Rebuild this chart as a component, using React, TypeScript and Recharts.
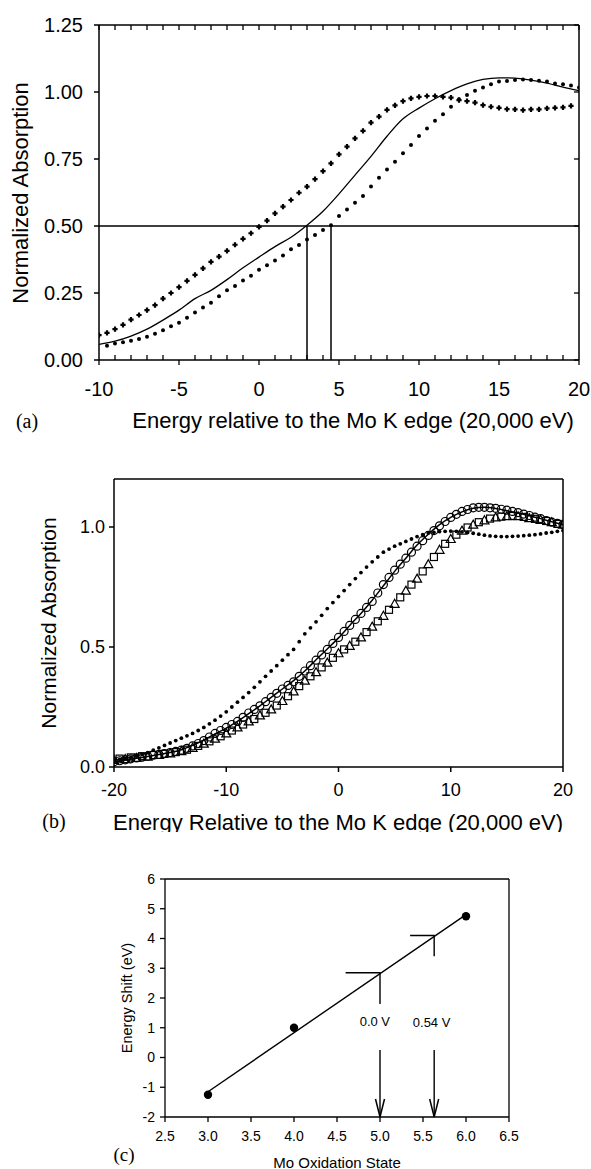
import React from 'react';
import { ComposedChart, Line, Scatter, XAxis, YAxis, ReferenceLine, ReferenceDot } from 'recharts';

const SANS = '"Liberation Sans", Arial, sans-serif';
const SERIF = '"Liberation Serif", "Times New Roman", serif';

const range = (a: number, b: number, s: number) =>
  Array.from({ length: Math.round((b - a) / s) + 1 }, (_, i) => +(a + i * s).toFixed(3));
const zip = (xs: number[], ys: number[]) => xs.map((x, i) => ({ x, y: ys[i] }));

// ---------- Panel (a) ----------
const A_X_TICKS = range(-10, 20, 1);
const A_X_LABELED = [-10, -5, 0, 5, 10, 15, 20];
const A_Y_TICKS = [0, 0.25, 0.5, 0.75, 1.0, 1.25];
const A_PLUS_X = range(-10, 19.5, 0.5);
const A_PLUS_Y = [
  0.093, 0.101, 0.115, 0.131, 0.151, 0.168, 0.186, 0.205, 0.229, 0.25,
  0.272, 0.295, 0.318, 0.342, 0.366, 0.386, 0.407, 0.43, 0.452, 0.473,
  0.497, 0.52, 0.547, 0.572, 0.597, 0.624, 0.647, 0.675, 0.705, 0.734,
  0.767, 0.796, 0.827, 0.855, 0.886, 0.908, 0.933, 0.95, 0.966, 0.976,
  0.982, 0.985, 0.985, 0.982, 0.979, 0.97, 0.966, 0.96, 0.951, 0.945,
  0.941, 0.936, 0.935, 0.932, 0.935, 0.935, 0.939, 0.941, 0.943, 0.948,
];
const A_LINE_X = range(-10, 20, 1);
const A_LINE_Y = [
  0.058, 0.07, 0.089, 0.115, 0.149, 0.186, 0.229, 0.26, 0.3, 0.344, 0.384,
  0.423, 0.458, 0.503, 0.555, 0.62, 0.69, 0.76, 0.835, 0.9, 0.94,
  0.975, 1.005, 1.03, 1.047, 1.053, 1.052, 1.044, 1.033, 1.018, 1.005,
];
const A_DOT_X = range(-9.5, 20, 0.5);
const A_DOT_Y = [
  0.053, 0.062, 0.066, 0.072, 0.078, 0.087, 0.098, 0.111, 0.126, 0.139,
  0.158, 0.177, 0.196, 0.214, 0.238, 0.26, 0.276, 0.297, 0.314, 0.337,
  0.354, 0.371, 0.39, 0.413, 0.429, 0.45, 0.466, 0.485, 0.503, 0.537,
  0.562, 0.587, 0.612, 0.647, 0.68, 0.711, 0.74, 0.771, 0.802, 0.836,
  0.864, 0.893, 0.917, 0.945, 0.973, 0.989, 1.005, 1.017, 1.029, 1.039,
  1.041, 1.045, 1.047, 1.045, 1.042, 1.039, 1.032, 1.029, 1.024, 1.017,
];
const A_HALF_LEVEL = 0.5;
const A_EDGE_POSITIONS = [3.0, 4.5];

// ---------- Panel (b) ----------
const B_X_TICKS = [-20, -10, 0, 10, 20];
const B_Y_TICKS = [0, 0.5, 1.0];
const B_DOT_X = range(-20, 20, 0.5);
const B_DOT_Y = [
  0.03, 0.032, 0.035, 0.04, 0.045, 0.052, 0.06, 0.07, 0.08, 0.09,
  0.1, 0.11, 0.12, 0.13, 0.14, 0.152, 0.165, 0.18, 0.195, 0.212,
  0.23, 0.25, 0.27, 0.29, 0.31, 0.332, 0.355, 0.378, 0.4, 0.422,
  0.445, 0.468, 0.49, 0.522, 0.555, 0.58, 0.605, 0.632, 0.66, 0.685,
  0.71, 0.735, 0.76, 0.785, 0.81, 0.833, 0.855, 0.875, 0.895, 0.908,
  0.92, 0.93, 0.94, 0.95, 0.96, 0.968, 0.975, 0.978, 0.981, 0.982,
  0.983, 0.982, 0.98, 0.977, 0.974, 0.97, 0.966, 0.963, 0.961, 0.96,
  0.96, 0.961, 0.962, 0.964, 0.966, 0.968, 0.971, 0.975, 0.978, 0.982,
  0.985,
];
const B_CIRCLE_X = range(-20, 20, 0.5);
const B_CIRCLE_Y = [
  0.022, 0.026, 0.03, 0.034, 0.038, 0.041, 0.045, 0.049, 0.053, 0.056,
  0.06, 0.065, 0.07, 0.078, 0.088, 0.098, 0.11, 0.125, 0.14, 0.152,
  0.165, 0.177, 0.19, 0.207, 0.225, 0.24, 0.255, 0.272, 0.29, 0.307,
  0.325, 0.34, 0.355, 0.378, 0.4, 0.422, 0.445, 0.467, 0.49, 0.515,
  0.54, 0.565, 0.59, 0.615, 0.64, 0.665, 0.69, 0.725, 0.76, 0.79,
  0.82, 0.845, 0.87, 0.895, 0.92, 0.943, 0.965, 0.985, 1.005, 1.023,
  1.04, 1.053, 1.065, 1.073, 1.08, 1.082, 1.082, 1.08, 1.078, 1.074,
  1.07, 1.065, 1.06, 1.054, 1.048, 1.041, 1.035, 1.027, 1.02, 1.015,
  1.01,
];
const B_LINE_X = range(-20, 20, 1);
const B_LINE_Y = [
  0.02, 0.028, 0.036, 0.044, 0.052, 0.06, 0.072, 0.09, 0.112, 0.138,
  0.162, 0.19, 0.222, 0.255, 0.29, 0.325, 0.36, 0.4, 0.447, 0.492,
  0.538, 0.59, 0.64, 0.695, 0.755, 0.815, 0.87, 0.925, 0.97, 1.01,
  1.04, 1.063, 1.078, 1.082, 1.077, 1.068, 1.058, 1.047, 1.035, 1.022,
  1.01,
];
const B_TRI_X = range(-20, 20, 1);
const B_TRI_Y = [
  0.03, 0.033, 0.038, 0.043, 0.05, 0.057, 0.066, 0.08, 0.097, 0.118,
  0.14, 0.165, 0.19, 0.215, 0.24, 0.275, 0.315, 0.36, 0.395, 0.435,
  0.474, 0.505, 0.54, 0.585, 0.63, 0.68, 0.735, 0.785, 0.845, 0.905,
  0.95, 0.985, 1.01, 1.028, 1.04, 1.045, 1.045, 1.037, 1.03, 1.02,
  1.01,
];
const B_SQ_X = range(-19.5, 19.5, 1);
const B_SQ_Y = [
  0.035, 0.04, 0.045, 0.05, 0.055, 0.062, 0.072, 0.088, 0.107, 0.128,
  0.152, 0.177, 0.2, 0.226, 0.256, 0.295, 0.337, 0.378, 0.415, 0.455,
  0.49, 0.522, 0.562, 0.607, 0.655, 0.707, 0.76, 0.815, 0.875, 0.93,
  0.968, 0.998, 1.02, 1.035, 1.043, 1.046, 1.042, 1.034, 1.025, 1.013,
];

// ---------- Panel (c) ----------
const C_X_TICKS = [2.5, 3.0, 3.5, 4.0, 4.5, 5.0, 5.5, 6.0, 6.5];
const C_Y_TICKS = [-2, -1, 0, 1, 2, 3, 4, 5, 6];
const C_STATE = [3, 4, 6];
const C_SHIFT = [-1.25, 1.0, 4.75];
const C_FIT_X = [3, 6];
const C_FIT_Y = [-1.15, 4.8];
const C_MARK_0V_X = [4.6, 5.0, 5.0];
const C_MARK_0V_Y = [2.85, 2.85, 1.8];
const C_MARK_054V_X = [5.35, 5.63, 5.63];
const C_MARK_054V_Y = [4.1, 4.1, 3.4];
const C_ARROW_0V_X = [5.0, 5.0];
const C_ARROW_054V_X = [5.63, 5.63];
const C_ARROW_Y = [0.25, -2];
const C_LABELS = [
  { x: 4.94, y: 1.2, text: '0.0 V' },
  { x: 5.6, y: 1.17, text: '0.54 V' },
];

// ---------- helpers ----------
const K = '#000';

const PlusShape = (p: any) => (
  <path
    d={`M${p.cx - 2.6},${p.cy}H${p.cx + 2.6}M${p.cx},${p.cy - 2.6}V${p.cy + 2.6}`}
    stroke={K}
    strokeWidth={2.2}
    fill="none"
  />
);
const SmallDot = (r: number) => (p: any) => <circle cx={p.cx} cy={p.cy} r={r} fill={K} />;
const OpenCircle = (p: any) => <circle cx={p.cx} cy={p.cy} r={4} fill="none" stroke={K} strokeWidth={1.2} />;
const OpenTri = (p: any) => (
  <path
    d={`M${p.cx},${p.cy - 4.5}L${p.cx + 4.5},${p.cy + 3.5}L${p.cx - 4.5},${p.cy + 3.5}Z`}
    fill="none"
    stroke={K}
    strokeWidth={1.2}
  />
);
const OpenSq = (p: any) => (
  <rect x={p.cx - 3.5} y={p.cy - 3.5} width={7} height={7} fill="none" stroke={K} strokeWidth={1.2} />
);

const aBottomTick = (p: any) => {
  const v = p.payload.value as number;
  const major = A_X_LABELED.includes(v);
  return (
    <g>
      <line x1={p.x} x2={p.x} y1={p.y} y2={major ? p.y + 5 : p.y - 5} stroke={K} strokeWidth={1.3} />
      {major && (
        <text x={p.x} y={p.y + 36} textAnchor="middle" fontSize={20} fontFamily={SANS} fill={K}>
          {v}
        </text>
      )}
    </g>
  );
};
const aTopTick = (p: any) => <line x1={p.x} x2={p.x} y1={p.y} y2={p.y + 5} stroke={K} strokeWidth={1.3} />;
const aRightTick = (p: any) => <line x1={p.x} x2={p.x - 5} y1={p.y} y2={p.y} stroke={K} strokeWidth={1.3} />;

const arrowDot = (p: any) =>
  p.index === 1 ? (
    <path
      key={`ar${p.index}`}
      d={`M${p.cx - 4.5},${p.cy - 18}L${p.cx},${p.cy}L${p.cx + 4.5},${p.cy - 18}`}
      fill="none"
      stroke={K}
      strokeWidth={1.5}
    />
  ) : (
    <g key={`ar${p.index}`} />
  );

function Txt(props: any) {
  const { x, y, size, family, rotate, children } = props;
  return (
    <div
      style={{
        position: 'absolute',
        left: x,
        top: y,
        transform: `translate(-50%,-50%)${rotate ? ' rotate(-90deg)' : ''}`,
        fontSize: size,
        fontFamily: family,
        lineHeight: 1,
        whiteSpace: 'nowrap',
        color: K,
      }}
    >
      {children}
    </div>
  );
}

// invisible series that binds the frame axes (top / right) so they are drawn
const FrameBinder = (props: any) => (
  <Line
    xAxisId="top"
    yAxisId="right"
    data={props.data}
    dataKey="y"
    stroke="none"
    dot={false}
    activeDot={false}
    legendType="none"
    isAnimationActive={false}
  />
);

function PanelA() {
  return (
    <div style={{ position: 'absolute', left: 0, top: 0, width: 591, height: 440 }}>
      <ComposedChart width={591} height={440} margin={{ top: 24, right: 11, bottom: 0, left: 0 }}>
        <XAxis
          xAxisId={0}
          type="number"
          dataKey="x"
          domain={[-10, 20]}
          ticks={A_X_TICKS}
          interval={0}
          height={80}
          allowDataOverflow
          stroke={K}
          strokeWidth={1.5}
          tickLine={false}
          tickSize={0}
          tickMargin={0}
          tick={aBottomTick}
        />
        <XAxis
          xAxisId="top"
          orientation="top"
          type="number"
          dataKey="x"
          domain={[-10, 20]}
          ticks={A_X_TICKS}
          interval={0}
          height={1}
          allowDataOverflow
          stroke={K}
          strokeWidth={1.5}
          tickLine={false}
          tickSize={0}
          tickMargin={0}
          tick={aTopTick}
        />
        <YAxis
          yAxisId={0}
          type="number"
          domain={[0, 1.25]}
          ticks={A_Y_TICKS}
          interval={0}
          width={99}
          allowDataOverflow
          stroke={K}
          strokeWidth={1.5}
          tickSize={5}
          tickMargin={11}
          tickFormatter={(v: number) => v.toFixed(2)}
          tick={{ fill: K, fontSize: 20, fontFamily: SANS }}
        />
        <YAxis
          yAxisId="right"
          orientation="right"
          type="number"
          domain={[0, 1.25]}
          ticks={A_Y_TICKS}
          interval={0}
          width={1}
          allowDataOverflow
          stroke={K}
          strokeWidth={1.5}
          tickLine={false}
          tickSize={0}
          tickMargin={0}
          tick={aRightTick}
        />
        {FrameBinder({ data: zip(A_LINE_X, A_LINE_Y) })}
        <ReferenceLine y={A_HALF_LEVEL} stroke={K} strokeWidth={1.5} />
        {A_EDGE_POSITIONS.map((e) => (
          <ReferenceLine
            key={e}
            segment={[
              { x: e, y: 0 },
              { x: e, y: A_HALF_LEVEL },
            ]}
            stroke={K}
            strokeWidth={1.5}
          />
        ))}
        <Line
          data={zip(A_LINE_X, A_LINE_Y)}
          dataKey="y"
          type="monotone"
          stroke={K}
          strokeWidth={1.3}
          dot={false}
          isAnimationActive={false}
        />
        <Scatter data={zip(A_PLUS_X, A_PLUS_Y)} dataKey="y" shape={PlusShape} isAnimationActive={false} />
        <Scatter data={zip(A_DOT_X, A_DOT_Y)} dataKey="y" shape={SmallDot(2)} isAnimationActive={false} />
      </ComposedChart>
      <Txt x={21} y={193} size={22} family={SANS} rotate>
        Normalized Absorption
      </Txt>
      <Txt x={353} y={421} size={22} family={SANS}>
        Energy relative to the Mo K edge (20,000 eV)
      </Txt>
      <Txt x={27} y={421} size={20} family={SERIF}>
        (a)
      </Txt>
    </div>
  );
}

function PanelB() {
  return (
    <div style={{ position: 'absolute', left: 0, top: 460, width: 591, height: 372, overflow: 'hidden' }}>
      <ComposedChart width={591} height={372} margin={{ top: 18, right: 27, bottom: 0, left: 0 }}>
        <XAxis
          xAxisId={0}
          type="number"
          dataKey="x"
          domain={[-20, 20]}
          ticks={B_X_TICKS}
          interval={0}
          height={65}
          allowDataOverflow
          stroke={K}
          strokeWidth={1.5}
          tickSize={5}
          tickMargin={11}
          tick={{ fill: K, fontSize: 18, fontFamily: SANS }}
        />
        <XAxis
          xAxisId="top"
          orientation="top"
          type="number"
          dataKey="x"
          domain={[-20, 20]}
          height={1}
          allowDataOverflow
          stroke={K}
          strokeWidth={1.5}
          tick={false}
          tickLine={false}
        />
        <YAxis
          yAxisId={0}
          type="number"
          domain={[0, 1.2]}
          ticks={B_Y_TICKS}
          interval={0}
          width={114}
          allowDataOverflow
          stroke={K}
          strokeWidth={1.5}
          tickSize={5}
          tickMargin={4}
          tickFormatter={(v: number) => v.toFixed(1)}
          tick={{ fill: K, fontSize: 18, fontFamily: SANS }}
        />
        <YAxis
          yAxisId="right"
          orientation="right"
          type="number"
          domain={[0, 1.2]}
          width={1}
          allowDataOverflow
          stroke={K}
          strokeWidth={1.5}
          tick={false}
          tickLine={false}
        />
        {FrameBinder({ data: zip(B_LINE_X, B_LINE_Y) })}
        <Scatter data={zip(B_DOT_X, B_DOT_Y)} dataKey="y" shape={SmallDot(1.9)} isAnimationActive={false} />
        <Scatter data={zip(B_TRI_X, B_TRI_Y)} dataKey="y" shape={OpenTri} isAnimationActive={false} />
        <Scatter data={zip(B_SQ_X, B_SQ_Y)} dataKey="y" shape={OpenSq} isAnimationActive={false} />
        <Scatter data={zip(B_CIRCLE_X, B_CIRCLE_Y)} dataKey="y" shape={OpenCircle} isAnimationActive={false} />
        <Line
          data={zip(B_LINE_X, B_LINE_Y)}
          dataKey="y"
          type="monotone"
          stroke={K}
          strokeWidth={1.5}
          dot={false}
          isAnimationActive={false}
        />
      </ComposedChart>
      <Txt x={48} y={163} size={21} family={SANS} rotate>
        Normalized Absorption
      </Txt>
      <Txt x={338} y={363} size={22} family={SANS}>
        Energy Relative to the Mo K edge (20,000 eV)
      </Txt>
      <Txt x={54} y={361} size={20} family={SERIF}>
        (b)
      </Txt>
    </div>
  );
}

function PanelC() {
  return (
    <div style={{ position: 'absolute', left: 0, top: 840, width: 591, height: 329 }}>
      <ComposedChart width={591} height={329} margin={{ top: 38, right: 81, bottom: 0, left: 0 }}>
        <XAxis
          xAxisId={0}
          type="number"
          dataKey="x"
          domain={[2.5, 6.5]}
          ticks={C_X_TICKS}
          interval={0}
          height={52}
          allowDataOverflow
          stroke={K}
          strokeWidth={1.3}
          tickSize={5}
          tickMargin={9}
          tickFormatter={(v: number) => v.toFixed(1)}
          tick={{ fill: K, fontSize: 14, fontFamily: SANS }}
        />
        <XAxis
          xAxisId="top"
          orientation="top"
          type="number"
          dataKey="x"
          domain={[2.5, 6.5]}
          height={1}
          allowDataOverflow
          stroke={K}
          strokeWidth={1.3}
          tick={false}
          tickLine={false}
        />
        <YAxis
          yAxisId={0}
          type="number"
          domain={[-2, 6]}
          ticks={C_Y_TICKS}
          interval={0}
          width={165}
          allowDataOverflow
          stroke={K}
          strokeWidth={1.3}
          tickSize={5}
          tickMargin={5}
          tick={{ fill: K, fontSize: 14, fontFamily: SANS }}
        />
        <YAxis
          yAxisId="right"
          orientation="right"
          type="number"
          domain={[-2, 6]}
          width={1}
          allowDataOverflow
          stroke={K}
          strokeWidth={1.3}
          tick={false}
          tickLine={false}
        />
        {FrameBinder({ data: zip(C_FIT_X, C_FIT_Y) })}
        <Line data={zip(C_FIT_X, C_FIT_Y)} dataKey="y" type="linear" stroke={K} strokeWidth={1.4} dot={false} isAnimationActive={false} />
        <Line data={zip(C_MARK_0V_X, C_MARK_0V_Y)} dataKey="y" type="linear" stroke={K} strokeWidth={1.4} dot={false} isAnimationActive={false} />
        <Line data={zip(C_MARK_054V_X, C_MARK_054V_Y)} dataKey="y" type="linear" stroke={K} strokeWidth={1.4} dot={false} isAnimationActive={false} />
        <Line data={zip(C_ARROW_0V_X, C_ARROW_Y)} dataKey="y" type="linear" stroke={K} strokeWidth={1.4} dot={arrowDot} isAnimationActive={false} />
        <Line data={zip(C_ARROW_054V_X, C_ARROW_Y)} dataKey="y" type="linear" stroke={K} strokeWidth={1.4} dot={arrowDot} isAnimationActive={false} />
        <Scatter data={zip(C_STATE, C_SHIFT)} dataKey="y" shape={SmallDot(4.2)} isAnimationActive={false} />
        {C_LABELS.map((l) => (
          <ReferenceDot
            key={l.text}
            x={l.x}
            y={l.y}
            r={0}
            stroke="none"
            fill="none"
            label={{ value: l.text, position: 'center', fill: K, fontSize: 13, fontFamily: SANS }}
          />
        ))}
      </ComposedChart>
      <Txt x={127} y={158} size={14.5} family={SANS} rotate>
        Energy Shift (eV)
      </Txt>
      <Txt x={337} y={322} size={15} family={SANS}>
        Mo Oxidation State
      </Txt>
      <Txt x={124} y={314} size={19} family={SERIF}>
        (c)
      </Txt>
    </div>
  );
}

export default function App() {
  return (
    <div style={{ position: 'absolute', left: 0, top: 0, width: 591, height: 1169, background: '#fff', overflow: 'hidden' }}>
      <PanelA />
      <PanelB />
      <PanelC />
    </div>
  );
}
